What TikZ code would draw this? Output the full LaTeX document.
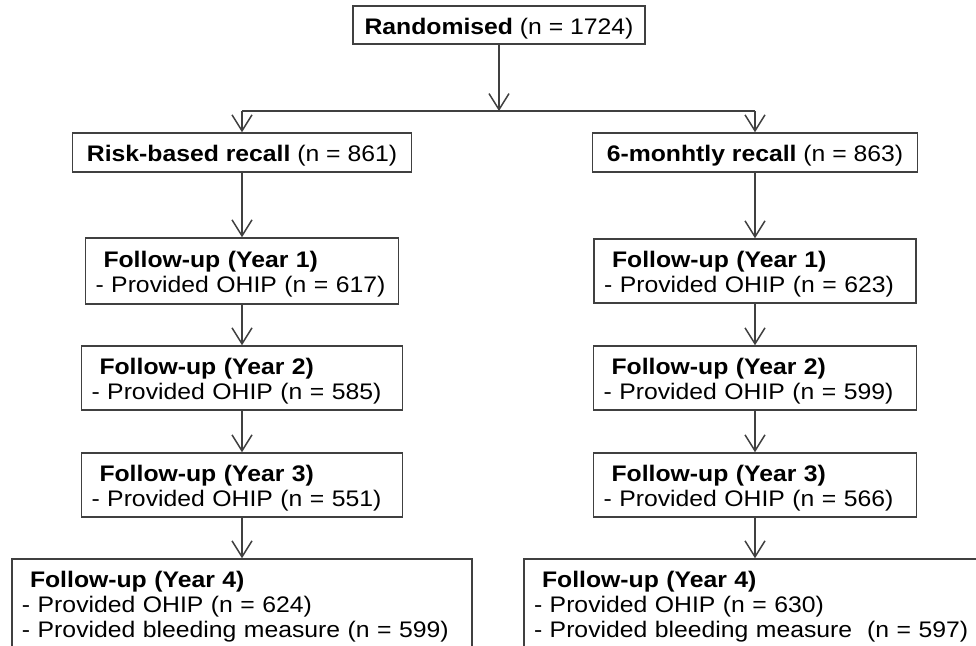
\documentclass[tikz,border=0pt]{standalone}
\usepackage{fontspec}
\setmainfont{Liberation Sans}[FakeStretch=1.1]
\usetikzlibrary{arrows.meta}

\begin{document}
\begin{tikzpicture}[x=1pt,y=-1pt]
	\useasboundingbox (0,0) rectangle (976,645);
	\clip (0,0) rectangle (976,645);

	\begin{scope}[every node/.style={draw=black!75,line width=1.5pt,inner xsep=10pt,inner ysep=0pt,font=\fontsize{22.5pt}{25pt}\selectfont,execute at begin node=\rule{0pt}{23pt}}]
		\node [align=center,minimum width=292,minimum height=38] (rand) at (499,25) {\textbf{Randomised} (n = 1724)};
		\node [align=center,minimum width=339,minimum height=39] (risk) at (242,152.5) {\textbf{Risk-based recall} (n = 861)};
		\node [align=center,minimum width=325,minimum height=39] (six) at (755,152.5) {\textbf{6-monhtly recall} (n = 863)};

		\node [align=left,text width=293,minimum height=66] (riskA) at (242,271) {\hspace*{8pt}\textbf{Follow-up (Year 1)}\\- Provided OHIP (n = 617)};
		\node [align=left,text width=301,minimum height=64] (riskB) at (242,378) {\hspace*{8pt}\textbf{Follow-up (Year 2)}\\- Provided OHIP (n = 585)};
		\node [align=left,text width=301,minimum height=64] (riskC) at (242,485) {\hspace*{8pt}\textbf{Follow-up (Year 3)}\\- Provided OHIP (n = 551)};
		\node [align=left,text width=440,minimum height=88] (riskD) at (242,603) {\hspace*{8pt}\textbf{Follow-up (Year 4)}\\- Provided OHIP (n = 624)\\- Provided bleeding measure (n = 599)};

		\node [align=left,text width=302,minimum height=64] (sixA) at (755,271) {\hspace*{8pt}\textbf{Follow-up (Year 1)}\\- Provided OHIP (n = 623)};
		\node [align=left,text width=303,minimum height=64] (sixB) at (755,378) {\hspace*{8pt}\textbf{Follow-up (Year 2)}\\- Provided OHIP (n = 599)};
		\node [align=left,text width=303,minimum height=64] (sixC) at (755,485) {\hspace*{8pt}\textbf{Follow-up (Year 3)}\\- Provided OHIP (n = 566)};
		\node [align=left,text width=442,minimum height=88] (sixD) at (755,603) {\hspace*{8pt}\textbf{Follow-up (Year 4)}\\- Provided OHIP (n = 630)\\- Provided bleeding measure\ \ (n = 597)};
	\end{scope}

	\coordinate (split) at (499,111);
	\coordinate (splitL) at (risk.north |- split);
	\coordinate (splitR) at (six.north |- split);

	\begin{scope}[every edge/.style={draw=black!75,line width=1.5pt},>={Straight Barb[length=16pt,width=20pt]}]
		\path [->] (rand) edge (split);
		\path (splitL) edge (splitR);
		\path [->] (splitL) edge (risk);
		\path [->] (splitR) edge (six);
		\path [->] (risk) edge (riskA);
		\path [->] (riskA) edge (riskB);
		\path [->] (riskB) edge (riskC);
		\path [->] (riskC) edge (riskD);
		\path [->] (six) edge (sixA);
		\path [->] (sixA) edge (sixB);
		\path [->] (sixB) edge (sixC);
		\path [->] (sixC) edge (sixD);
	\end{scope}
\end{tikzpicture}
\end{document}
